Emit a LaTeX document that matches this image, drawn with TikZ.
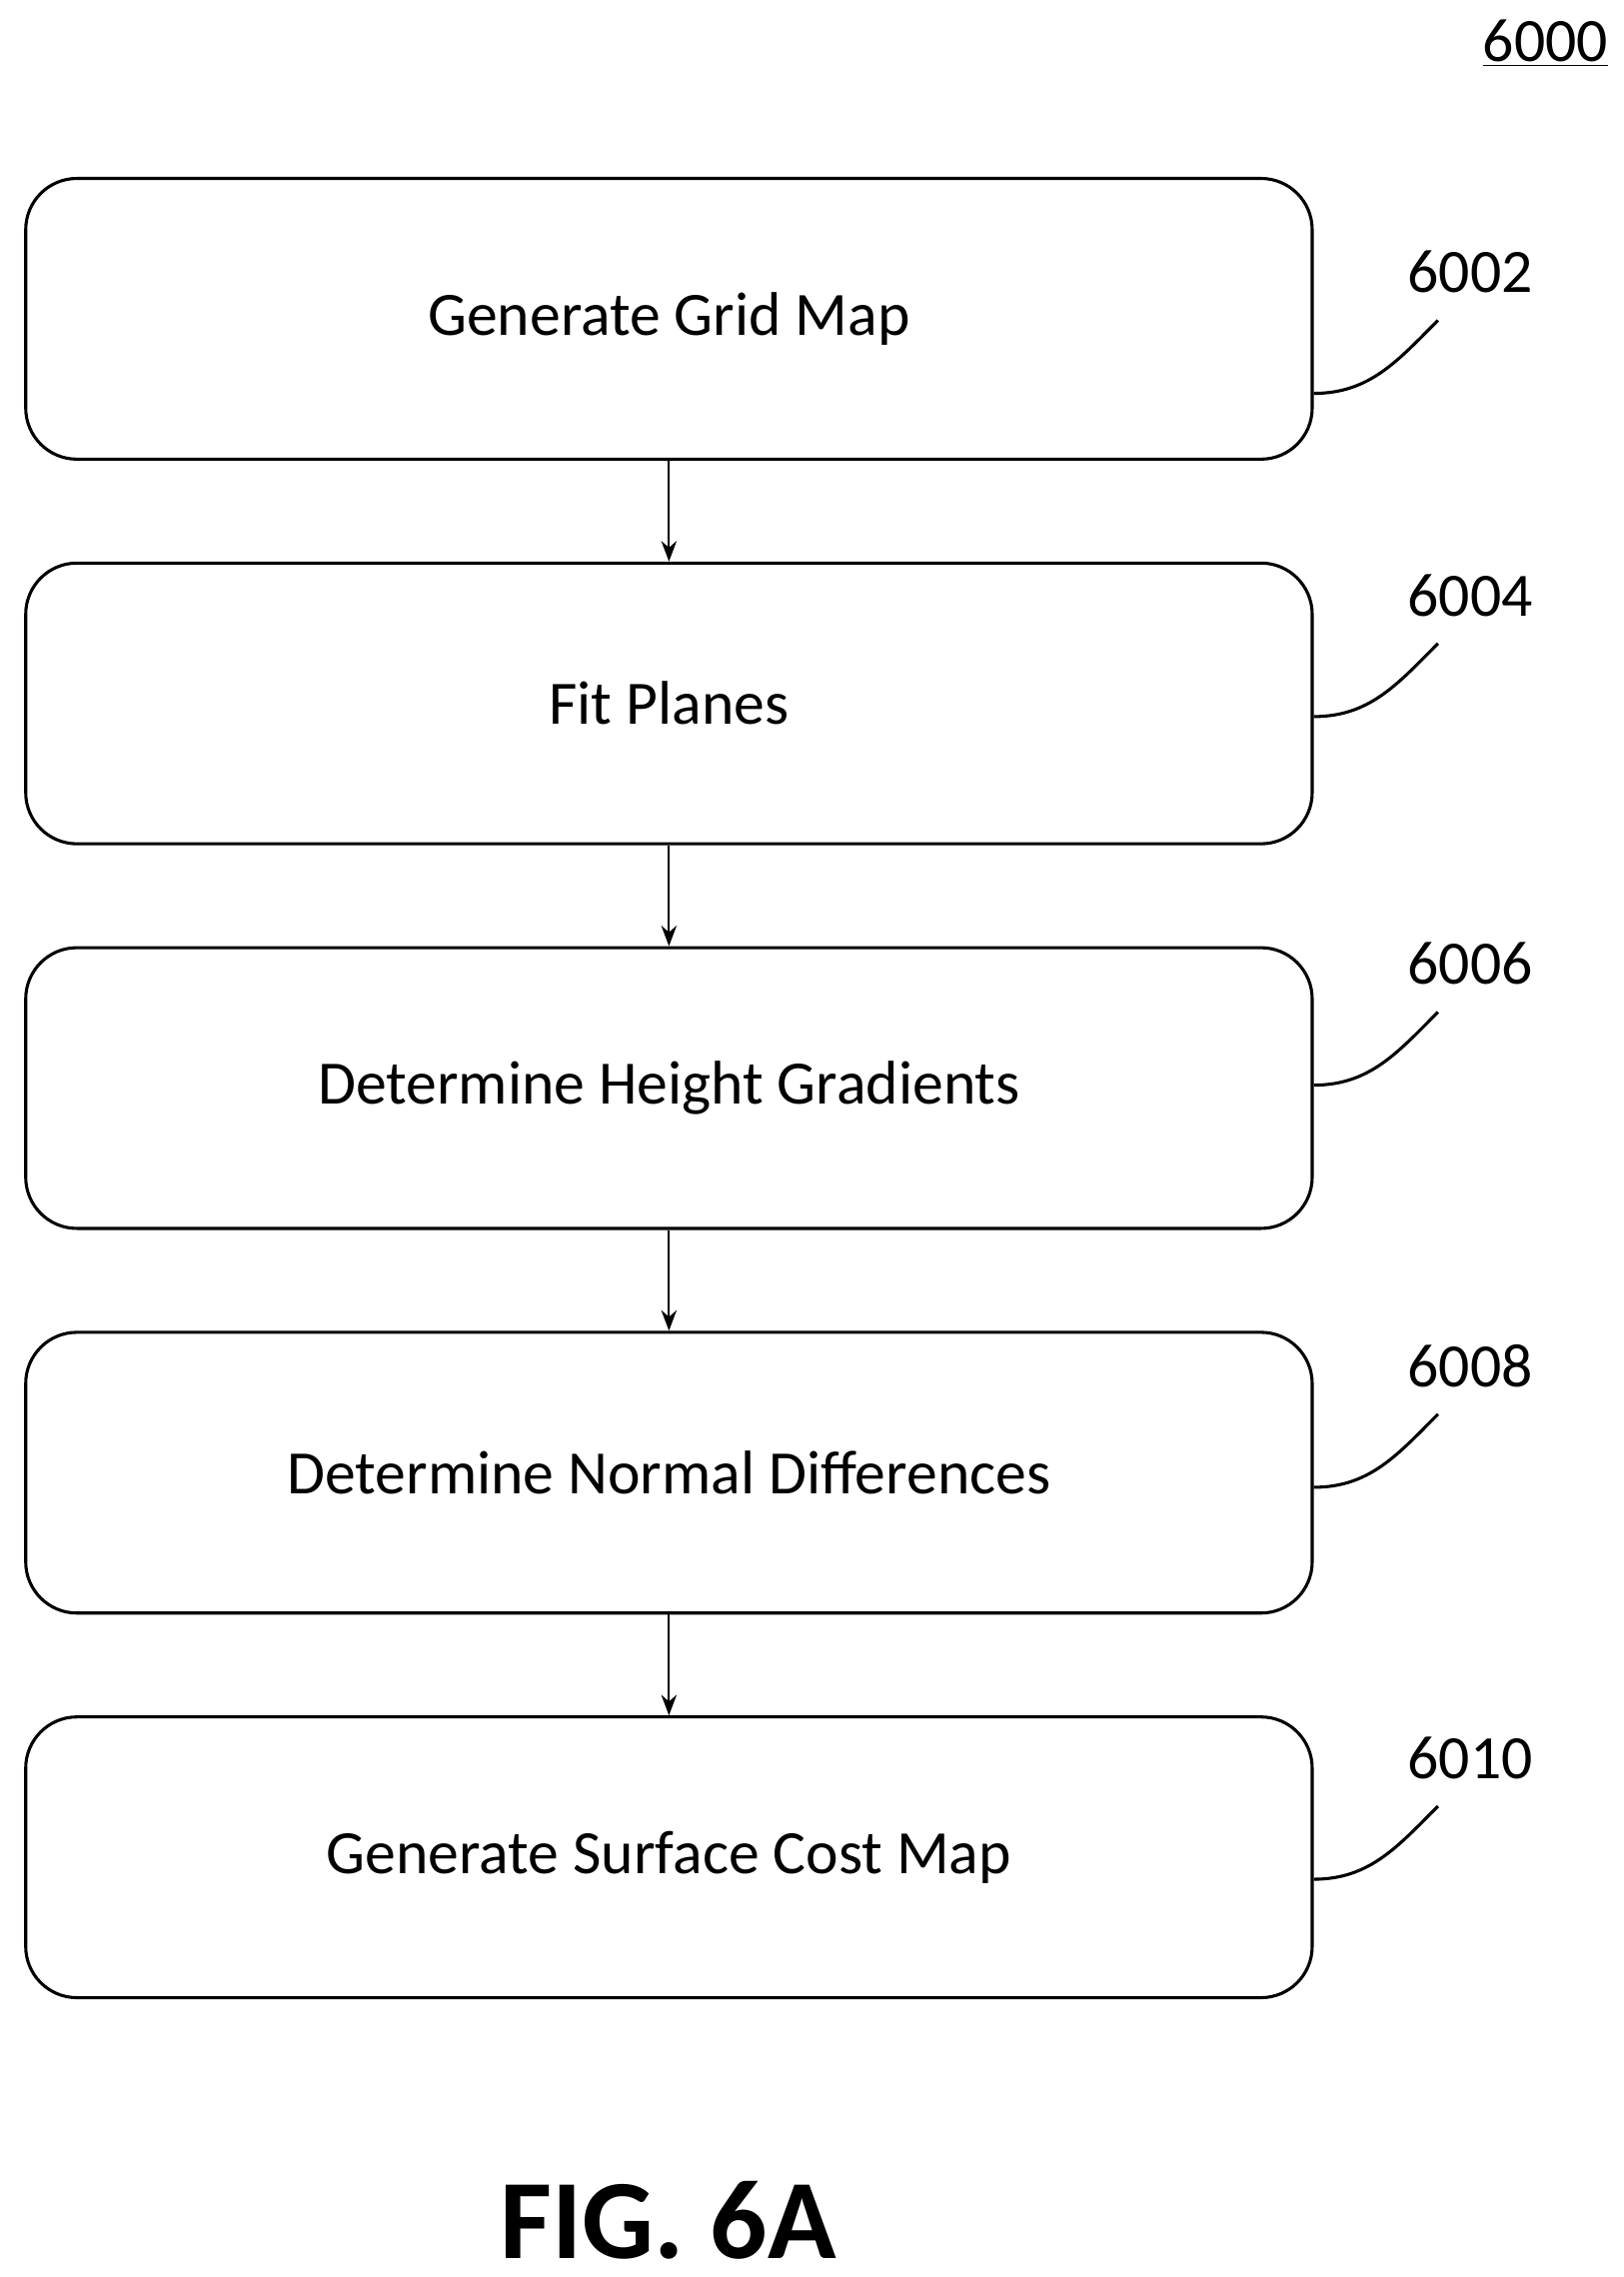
\documentclass[tikz,border=0pt]{standalone}
\usepackage{fontspec}
\setmainfont{Carlito}
\usetikzlibrary{arrows.meta}
\tikzset{
  stage/.style={draw, line width=1.2pt, rounded corners=0.7cm, minimum width=17.6cm, minimum height=3.84cm, font=\fontsize{24}{28}\selectfont},
  ref/.style={font=\fontsize{24}{28}\selectfont},
  flow/.style={-{Stealth[length=8pt,width=6pt]}, line width=0.8pt},
  lead/.style={line width=1.2pt}
}
\begin{document}
\begin{tikzpicture}[x=0.02cm, y=-0.02cm]
            \useasboundingbox (0,0) rectangle (1110,1557);
            % Steps
            \node[stage] (grid) at (457.5,218) {Generate Grid Map};
            \node[stage] (fit) at (457.5,481) {Fit Planes};
            \node[stage] (height) at (457.5,744) {Determine Height Gradients};
            \node[stage] (normal) at (457.5,1007) {Determine Normal Differences};
            \node[stage] (cost) at (457.5,1270) {Generate Surface Cost Map};
            % Flow
            \draw[flow] (grid) -- (fit);
            \draw[flow] (fit) -- (height);
            \draw[flow] (height) -- (normal);
            \draw[flow] (normal) -- (cost);
            % Reference numerals
            \foreach \nd/\dy/\num in {grid/-51/6002, fit/-9/6004, height/2/6006, normal/-10/6008, cost/-15/6010}{
              \coordinate (\nd-a) at ([yshift=\dy*0.02cm]\nd.east);
              \coordinate (\nd-b) at ([xshift=85*0.02cm, yshift=50*0.02cm]\nd-a);
              \draw[lead] (\nd-a) to[out=0, in=225] (\nd-b);
              \node[ref] (\nd-num) at ([xshift=22*0.02cm, yshift=33*0.02cm]\nd-b) {\num};
            }
            \node[ref] (fig) at (1057,30) {\underline{6000}};
            \node[font=\bfseries\fontsize{44}{48}\selectfont] (title) at (457,1518) {FIG. 6A};
        \end{tikzpicture}
\end{document}
